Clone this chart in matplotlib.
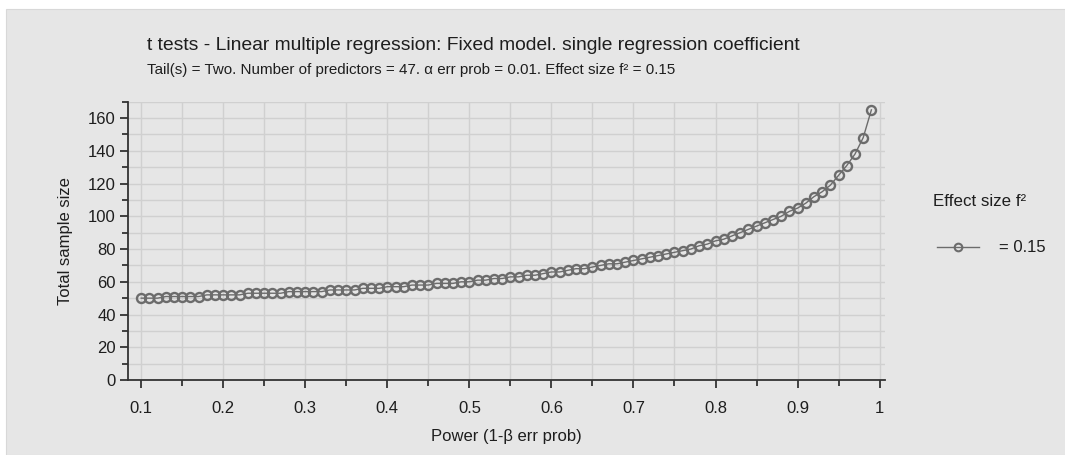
import matplotlib
matplotlib.use("Agg")
import matplotlib.pyplot as plt
from matplotlib.lines import Line2D
from matplotlib.patches import Rectangle
from matplotlib.ticker import MultipleLocator

plt.rcParams["font.family"] = ["Liberation Sans", "DejaVu Sans"]

# Power (1-beta) values and the total sample size
power = [
    0.10, 0.11, 0.12, 0.13, 0.14, 0.15, 0.16, 0.17, 0.18, 0.19,
    0.20, 0.21, 0.22, 0.23, 0.24, 0.25, 0.26, 0.27, 0.28, 0.29,
    0.30, 0.31, 0.32, 0.33, 0.34, 0.35, 0.36, 0.37, 0.38, 0.39,
    0.40, 0.41, 0.42, 0.43, 0.44, 0.45, 0.46, 0.47, 0.48, 0.49,
    0.50, 0.51, 0.52, 0.53, 0.54, 0.55, 0.56, 0.57, 0.58, 0.59,
    0.60, 0.61, 0.62, 0.63, 0.64, 0.65, 0.66, 0.67, 0.68, 0.69,
    0.70, 0.71, 0.72, 0.73, 0.74, 0.75, 0.76, 0.77, 0.78, 0.79,
    0.80, 0.81, 0.82, 0.83, 0.84, 0.85, 0.86, 0.87, 0.88, 0.89,
    0.90, 0.91, 0.92, 0.93, 0.94, 0.95, 0.96, 0.97, 0.98, 0.99,
]
total_n = [
    50, 50, 50, 51, 51, 51, 51, 51, 52, 52,
    52, 52, 52, 53, 53, 53, 53, 53, 54, 54,
    54, 54, 54, 55, 55, 55, 55, 56, 56, 56,
    57, 57, 57, 58, 58, 58, 59, 59, 59, 60,
    60, 61, 61, 62, 62, 63, 63, 64, 64, 65,
    66, 66, 67, 68, 68, 69, 70, 71, 71, 72,
    73, 74, 75, 76, 77, 78, 79, 80, 82, 83,
    85, 86, 88, 90, 92, 94, 96, 98, 100, 103,
    105, 108, 112, 115, 119, 125, 131, 138, 148, 165,
]
x_ticks = [0.1, 0.2, 0.3, 0.4, 0.5, 0.6, 0.7, 0.8, 0.9, 1.0]
x_tick_labels = ["0.1", "0.2", "0.3", "0.4", "0.5", "0.6", "0.7", "0.8", "0.9", "1"]
series_label = "= 0.15"

title = "t tests - Linear multiple regression: Fixed model. single regression coefficient"
subtitle = "Tail(s) = Two. Number of predictors = 47. α err prob = 0.01. Effect size f² = 0.15"

bg = "#e6e6e6"
ink = "#1e1e1e"
marker_col = "#6c6c6c"
W, H = 1065, 455

fig = plt.figure(figsize=(W / 100, H / 100), dpi=100, facecolor="white")
fig.patches.append(Rectangle((6 / W, 0), 1, 1 - 9 / H, transform=fig.transFigure,
                             facecolor=bg, edgecolor="#d8d8d8", lw=0.8, zorder=-10))

ax = fig.add_axes([128 / W, 1 - 380 / H, (885 - 128) / W, (380 - 101.7) / H])
ax.set_facecolor(bg)

ax.plot(power, total_n, color=marker_col, lw=1.0, marker="o", ms=6.5,
        mfc="none", mec=marker_col, mew=1.7, zorder=3, clip_on=False)

ax.set_xlim(0.0839, 1.0066)
ax.set_ylim(0, 170)
ax.xaxis.set_minor_locator(MultipleLocator(0.05))
ax.yaxis.set_major_locator(MultipleLocator(20))
ax.yaxis.set_minor_locator(MultipleLocator(10))
ax.set_xticks(x_ticks)
ax.set_xticklabels(x_tick_labels)

ax.grid(True, which="both", color="#d0d0d0", lw=1.0, zorder=0)
ax.set_axisbelow(True)

for side in ["top", "right"]:
    ax.spines[side].set_visible(False)
for side in ["left", "bottom"]:
    ax.spines[side].set_color("#333333")
    ax.spines[side].set_linewidth(1.3)

ax.tick_params(which="major", length=5.8, width=1.3, color="#333333",
               labelsize=12, labelcolor=ink, pad=3)
ax.tick_params(axis="x", which="major", pad=9.5)
ax.tick_params(which="minor", length=4.0, width=1.3, color="#333333")

ax.set_xlabel("Power (1-β err prob)", fontsize=12, color=ink, labelpad=9)
ax.set_ylabel("Total sample size", fontsize=12, color=ink, labelpad=11)

fig.text(147 / W, 1 - 45 / H, title, fontsize=13.9, color=ink, va="center", ha="left")
fig.text(147 / W, 1 - 70 / H, subtitle, fontsize=10.9, color=ink, va="center", ha="left")

# legend
fig.text(933 / W, 1 - 201 / H, "Effect size f²", fontsize=12.2, color=ink,
         va="center", ha="left")
handle = Line2D([], [], color=marker_col, lw=1.0, marker="o", ms=5.5,
                mfc="none", mec=marker_col, mew=1.5)
fig.legend([handle], [series_label], loc="center left",
           bbox_to_anchor=(937 / W, 1 - 248 / H), frameon=False, borderpad=0,
           borderaxespad=0, fontsize=12, handlelength=2.5, handletextpad=1.2,
           labelcolor=ink)

fig.savefig("out.png", dpi=100, facecolor="white")
